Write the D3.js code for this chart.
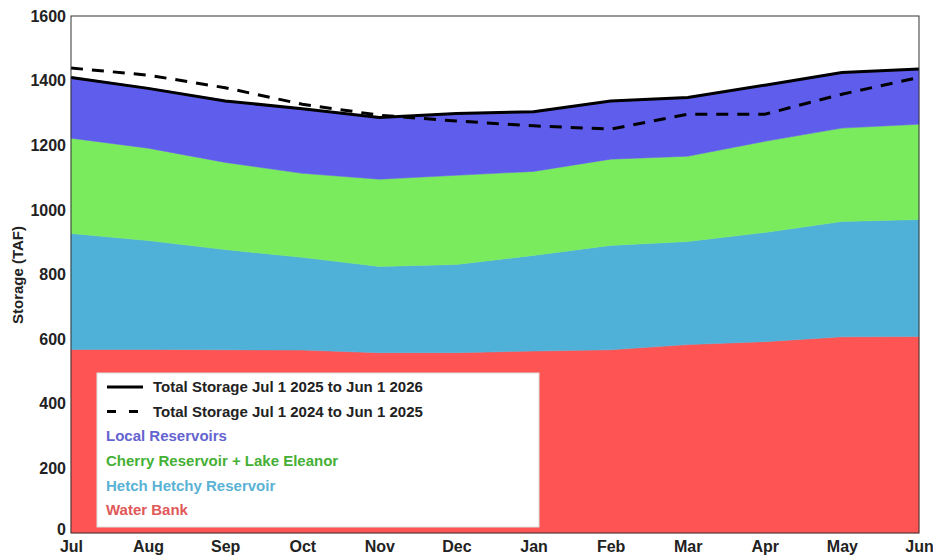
<!DOCTYPE html>
<html><head><meta charset="utf-8">
<script src="https://cdn.jsdelivr.net/npm/d3@7"></script>
<style>body{margin:0;background:#fff;}svg{display:block;font-family:Arial,"Liberation Sans",sans-serif;}</style>
</head><body><svg id="c" width="933" height="558"></svg>
<script>
const months = ["Jul","Aug","Sep","Oct","Nov","Dec","Jan","Feb","Mar","Apr","May","Jun"];
const waterBank   = [568, 568, 567, 566, 558, 558, 563, 567, 583, 592, 607, 608];
const hetchHetchy = [359, 337, 310, 287, 267, 273, 296, 323, 319, 338, 357, 362];
const cherryEleanor=[295, 286, 270, 260, 270, 276, 260, 267, 264, 282, 289, 295];
const localRes    = [190, 187, 192, 199, 191, 189, 187, 179, 182, 174, 172, 171];
const total2025   = [1410, 1376, 1337, 1313, 1286, 1298, 1304, 1337, 1348, 1386, 1425, 1436];
const total2024   = [1439, 1417, 1378, 1327, 1293, 1275, 1260, 1250, 1296, 1296, 1358, 1410];
const yTicks = [0,200,400,600,800,1000,1200,1400,1600];

const layerNames = ["Water Bank","Hetch Hetchy Reservoir","Cherry Reservoir + Lake Eleanor","Local Reservoirs"];
const layerColors = ["#ff5454","#4fb1d8","#7beb5e","#5f5deb"];
const textColors = ["#e05858","#5ab2d4","#45b035","#6464d0"];

const svg = d3.select("#c");
const L=71,R=919,T=16,B=533;
const x = d3.scalePoint().domain(months).range([L,R]);
const y = d3.scaleLinear().domain([0,1600]).range([B,T]);

const rows = months.map((m,i)=>({m, wb:waterBank[i], hh:hetchHetchy[i], ce:cherryEleanor[i], lr:localRes[i]}));
const stack = d3.stack().keys(["wb","hh","ce","lr"])(rows);
const area = d3.area().x(d=>x(d.data.m)).y0(d=>y(d[0])).y1(d=>y(d[1]));
svg.append("g").selectAll("path").data(stack).join("path")
  .attr("d",area).attr("fill",(d,i)=>layerColors[i]).attr("stroke",(d,i)=>layerColors[i]).attr("stroke-width",0.5);

const line = d3.line().x((d,i)=>x(months[i])).y(d=>y(d));
svg.append("path").attr("d",line(total2024)).attr("fill","none").attr("stroke","#000").attr("stroke-width",3).attr("stroke-dasharray","12,9");
svg.append("path").attr("d",line(total2025)).attr("fill","none").attr("stroke","#000").attr("stroke-width",3);

// frame
svg.append("rect").attr("x",L).attr("y",T).attr("width",R-L).attr("height",B-T).attr("fill","none").attr("stroke","#333").attr("stroke-width",1);

// axes
const yAx = svg.append("g").attr("transform",`translate(${L},0)`)
  .call(d3.axisLeft(y).tickValues(yTicks).tickFormat(d3.format("d")).tickSize(0).tickPadding(5));
yAx.select(".domain").remove();
yAx.selectAll("text").attr("font-size",16).attr("font-weight","bold").attr("fill","#222").attr("font-family","Arial,'Liberation Sans',sans-serif");
yAx.selectAll(".tick").filter(d=>d===0).select("text").attr("dy","0.1em");
const xAx = svg.append("g").attr("transform",`translate(0,${B})`)
  .call(d3.axisBottom(x).tickSize(0).tickPadding(8));
xAx.select(".domain").remove();
xAx.selectAll("text").attr("font-size",16).attr("font-weight","bold").attr("fill","#222").attr("font-family","'Liberation Sans Narrow','Arial Narrow',Arial,sans-serif");

svg.append("text").attr("transform","translate(23,275) rotate(-90)").attr("text-anchor","middle")
  .attr("font-size",15).attr("font-weight","bold").attr("fill","#222").text("Storage (TAF)");

// legend
const lg = svg.append("g");
lg.append("rect").attr("x",97).attr("y",373).attr("width",442).attr("height",154).attr("fill","#fff").attr("stroke","#ddd");
const legItems = [
  {t:"Total Storage Jul 1 2025 to Jun 1 2026", c:"#222", line:"solid"},
  {t:"Total Storage Jul 1 2024 to Jun 1 2025", c:"#222", line:"dash"},
  {t:layerNames[3], c:textColors[3]},
  {t:layerNames[2], c:textColors[2]},
  {t:layerNames[1], c:textColors[1]},
  {t:layerNames[0], c:textColors[0]}
];
legItems.forEach((d,i)=>{
  const yy = 387 + i*24.6;
  const tx = d.line ? 153 : 106;
  if(d.line){
    lg.append("line").attr("x1",107).attr("x2",143).attr("y1",yy).attr("y2",yy).attr("stroke","#000").attr("stroke-width",3)
      .attr("stroke-dasharray", d.line==="dash" ? "9,13" : null);
  }
  lg.append("text").attr("x",tx).attr("y",yy).attr("dy","0.35em").attr("font-size",15).attr("font-weight","bold").attr("fill",d.c).text(d.t);
});
</script></body></html>
